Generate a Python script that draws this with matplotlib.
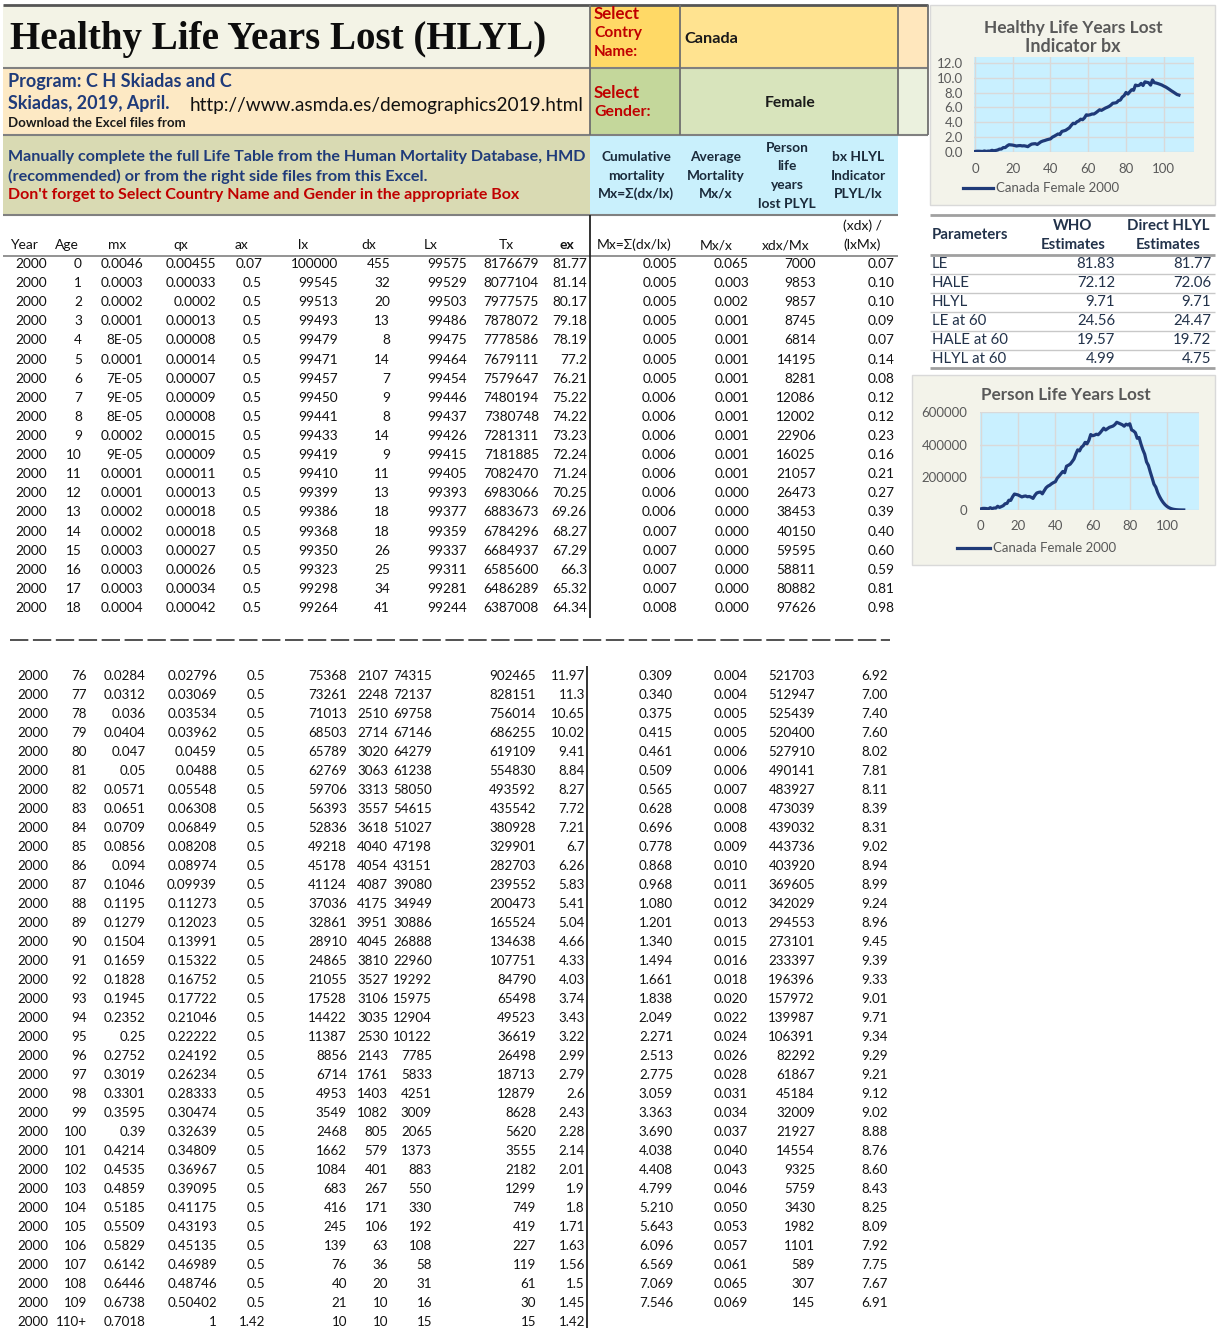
import matplotlib
matplotlib.use('Agg')
import matplotlib.pyplot as plt
from matplotlib import font_manager as fm
from matplotlib.patches import Rectangle
from matplotlib.ticker import FuncFormatter
import numpy as np

# ---------------- data ----------------
year = 2000
ages_top = list(range(0, 19))
mx_top = ["0.0046", "0.0003", "0.0002", "0.0001", "8E-05", "0.0001", "7E-05", "9E-05", "8E-05", "0.0002",
          "9E-05", "0.0001", "0.0001", "0.0002", "0.0002", "0.0003", "0.0003", "0.0003", "0.0004"]
qx_top = ["0.00455", "0.00033", "0.0002", "0.00013", "0.00008", "0.00014", "0.00007", "0.00009", "0.00008",
          "0.00015", "0.00009", "0.00011", "0.00013", "0.00018", "0.00018", "0.00027", "0.00026", "0.00034", "0.00042"]
ax_top = ["0.07"] + ["0.5"] * 18
lx_top = [100000, 99545, 99513, 99493, 99479, 99471, 99457, 99450, 99441, 99433, 99419, 99410, 99399, 99386,
          99368, 99350, 99323, 99298, 99264]
dx_top = [455, 32, 20, 13, 8, 14, 7, 9, 8, 14, 9, 11, 13, 18, 18, 26, 25, 34, 41]
Lx_top = [99575, 99529, 99503, 99486, 99475, 99464, 99454, 99446, 99437, 99426, 99415, 99405, 99393, 99377,
          99359, 99337, 99311, 99281, 99244]
Tx_top = [8176679, 8077104, 7977575, 7878072, 7778586, 7679111, 7579647, 7480194, 7380748, 7281311, 7181885,
          7082470, 6983066, 6883673, 6784296, 6684937, 6585600, 6486289, 6387008]
ex_top = ["81.77", "81.14", "80.17", "79.18", "78.19", "77.2", "76.21", "75.22", "74.22", "73.23", "72.24",
          "71.24", "70.25", "69.26", "68.27", "67.29", "66.3", "65.32", "64.34"]
Mx_top = [0.005, 0.005, 0.005, 0.005, 0.005, 0.005, 0.005, 0.006, 0.006, 0.006, 0.006, 0.006, 0.006, 0.006,
          0.007, 0.007, 0.007, 0.007, 0.008]
Mxx_top = [0.065, 0.003, 0.002, 0.001, 0.001, 0.001, 0.001, 0.001, 0.001, 0.001, 0.001, 0.001, 0.000, 0.000,
           0.000, 0.000, 0.000, 0.000, 0.000]
plyl_top = [7000, 9853, 9857, 8745, 6814, 14195, 8281, 12086, 12002, 22906, 16025, 21057, 26473, 38453, 40150,
            59595, 58811, 80882, 97626]
bx_top = [0.07, 0.10, 0.10, 0.09, 0.07, 0.14, 0.08, 0.12, 0.12, 0.23, 0.16, 0.21, 0.27, 0.39, 0.40, 0.60,
          0.59, 0.81, 0.98]

# ages 19..75
plyl_mid = [95000, 92000, 86000, 80000, 84000, 86000, 81000, 83000, 78000, 71000, 90000, 104000, 108000,
            110000, 99000, 118000, 136000, 146000, 152000, 161000, 168000, 173000, 195000, 208000, 222000,
            236000, 228000, 268000, 274000, 281000, 296000, 312000, 342000, 368000, 362000, 384000, 394000,
            414000, 405000, 426000, 462000, 455000, 458000, 464000, 461000, 472000, 486000, 501000, 490000,
            498000, 506000, 510000, 514000, 523000, 537000, 532000, 527000]
bx_mid = [0.96, 0.93, 0.87, 0.81, 0.85, 0.87, 0.82, 0.84, 0.79, 0.72, 0.91, 1.06, 1.10, 1.12, 1.01, 1.20,
          1.38, 1.48, 1.55, 1.64, 1.71, 1.77, 2.00, 2.13, 2.28, 2.43, 2.35, 2.77, 2.84, 2.92, 3.09, 3.26,
          3.59, 3.87, 3.82, 4.07, 4.19, 4.42, 4.35, 4.60, 5.01, 4.96, 5.02, 5.12, 5.12, 5.28, 5.48, 5.69,
          5.61, 5.76, 5.91, 6.02, 6.14, 6.32, 6.57, 6.60, 6.66]

ages_bot = [str(a) for a in range(76, 110)] + ["110+"]
mx_bot = ["0.0284", "0.0312", "0.036", "0.0404", "0.047", "0.05", "0.0571", "0.0651", "0.0709", "0.0856",
          "0.094", "0.1046", "0.1195", "0.1279", "0.1504", "0.1659", "0.1828", "0.1945", "0.2352", "0.25",
          "0.2752", "0.3019", "0.3301", "0.3595", "0.39", "0.4214", "0.4535", "0.4859", "0.5185", "0.5509",
          "0.5829", "0.6142", "0.6446", "0.6738", "0.7018"]
qx_bot = ["0.02796", "0.03069", "0.03534", "0.03962", "0.0459", "0.0488", "0.05548", "0.06308", "0.06849",
          "0.08208", "0.08974", "0.09939", "0.11273", "0.12023", "0.13991", "0.15322", "0.16752", "0.17722",
          "0.21046", "0.22222", "0.24192", "0.26234", "0.28333", "0.30474", "0.32639", "0.34809", "0.36967",
          "0.39095", "0.41175", "0.43193", "0.45135", "0.46989", "0.48746", "0.50402", "1"]
ax_bot = ["0.5"] * 34 + ["1.42"]
lx_bot = [75368, 73261, 71013, 68503, 65789, 62769, 59706, 56393, 52836, 49218, 45178, 41124, 37036, 32861,
          28910, 24865, 21055, 17528, 14422, 11387, 8856, 6714, 4953, 3549, 2468, 1662, 1084, 683, 416, 245,
          139, 76, 40, 21, 10]
dx_bot = [2107, 2248, 2510, 2714, 3020, 3063, 3313, 3557, 3618, 4040, 4054, 4087, 4175, 3951, 4045, 3810,
          3527, 3106, 3035, 2530, 2143, 1761, 1403, 1082, 805, 579, 401, 267, 171, 106, 63, 36, 20, 10, 10]
Lx_bot = [74315, 72137, 69758, 67146, 64279, 61238, 58050, 54615, 51027, 47198, 43151, 39080, 34949, 30886,
          26888, 22960, 19292, 15975, 12904, 10122, 7785, 5833, 4251, 3009, 2065, 1373, 883, 550, 330, 192,
          108, 58, 31, 16, 15]
Tx_bot = [902465, 828151, 756014, 686255, 619109, 554830, 493592, 435542, 380928, 329901, 282703, 239552,
          200473, 165524, 134638, 107751, 84790, 65498, 49523, 36619, 26498, 18713, 12879, 8628, 5620, 3555,
          2182, 1299, 749, 419, 227, 119, 61, 30, 15]
ex_bot = ["11.97", "11.3", "10.65", "10.02", "9.41", "8.84", "8.27", "7.72", "7.21", "6.7", "6.26", "5.83",
          "5.41", "5.04", "4.66", "4.33", "4.03", "3.74", "3.43", "3.22", "2.99", "2.79", "2.6", "2.43", "2.28",
          "2.14", "2.01", "1.9", "1.8", "1.71", "1.63", "1.56", "1.5", "1.45", "1.42"]
Mx_bot = [0.309, 0.340, 0.375, 0.415, 0.461, 0.509, 0.565, 0.628, 0.696, 0.778, 0.868, 0.968, 1.080, 1.201,
          1.340, 1.494, 1.661, 1.838, 2.049, 2.271, 2.513, 2.775, 3.059, 3.363, 3.690, 4.038, 4.408, 4.799,
          5.210, 5.643, 6.096, 6.569, 7.069, 7.546]
Mxx_bot = [0.004, 0.004, 0.005, 0.005, 0.006, 0.006, 0.007, 0.008, 0.008, 0.009, 0.010, 0.011, 0.012, 0.013,
           0.015, 0.016, 0.018, 0.020, 0.022, 0.024, 0.026, 0.028, 0.031, 0.034, 0.037, 0.040, 0.043, 0.046,
           0.050, 0.053, 0.057, 0.061, 0.065, 0.069]
plyl_bot = [521703, 512947, 525439, 520400, 527910, 490141, 483927, 473039, 439032, 443736, 403920, 369605,
            342029, 294553, 273101, 233397, 196396, 157972, 139987, 106391, 82292, 61867, 45184, 32009, 21927,
            14554, 9325, 5759, 3430, 1982, 1101, 589, 307, 145]
bx_bot = [6.92, 7.00, 7.40, 7.60, 8.02, 7.81, 8.11, 8.39, 8.31, 9.02, 8.94, 8.99, 9.24, 8.96, 9.45, 9.39, 9.33,
          9.01, 9.71, 9.34, 9.29, 9.21, 9.12, 9.02, 8.88, 8.76, 8.60, 8.43, 8.25, 8.09, 7.92, 7.75, 7.67, 6.91]

param_names = ["LE", "HALE", "HLYL", "LE at 60", "HALE at 60", "HLYL at 60"]
who_est = [81.83, 72.12, 9.71, 24.56, 19.57, 4.99]
direct_est = [81.77, 72.06, 9.71, 24.47, 19.72, 4.75]

country = "Canada"
gender = "Female"
series_label = "Canada Female 2000"

# ---------------- fonts ----------------
names = {f.name for f in fm.fontManager.ttflist}
BASE = 'Lato' if 'Lato' in names else 'DejaVu Sans'
SERIF = 'Liberation Serif' if 'Liberation Serif' in names else 'DejaVu Serif'
plt.rcParams['font.family'] = [BASE, 'DejaVu Sans']

W, H = 1225, 1328
fig = plt.figure(figsize=(W / 100, H / 100), dpi=100)
fig.patch.set_facecolor('white')
ax = fig.add_axes([0, 0, 1, 1])
ax.set_xlim(0, W)
ax.set_ylim(H, 0)
ax.axis('off')
renderer = fig.canvas.get_renderer()


def rect(x0, y0, x1, y1, fc, ec='none', lw=0, z=0):
    ax.add_patch(Rectangle((x0, y0), x1 - x0, y1 - y0, fc=fc, ec=ec, lw=lw, zorder=z))


def hline(y, x0, x1, c='#808080', lw=1.2):
    ax.plot([x0, x1], [y, y], color=c, lw=lw, solid_capstyle='butt', zorder=3)


def vline(x, y0, y1, c='#808080', lw=1.2):
    ax.plot([x, x], [y0, y1], color=c, lw=lw, solid_capstyle='butt', zorder=3)


def T(x, y, s, ha='left', size=10, weight='normal', color='#111111', family=None, va='center', width=None, **kw):
    fam = [family or BASE, 'DejaVu Sans']
    t = ax.text(x, y, s, ha=ha, va=va, fontsize=size, fontweight=weight, color=color, family=fam, zorder=5, **kw)
    if width is not None:
        bb = t.get_window_extent(renderer)
        t.set_fontsize(size * width / bb.width)
    return t


# ---------------- header cells ----------------
rect(3, 5, 590, 68, '#f3f3e6')
rect(3, 68, 590, 135, '#fde9c4')
rect(3, 135, 590, 215, '#d9dab3')
rect(590, 5, 680, 68, '#ffd966')
rect(680, 5, 898, 68, '#ffe390')
rect(898, 5, 928, 68, '#ffe7bd')
rect(590, 68, 680, 135, '#c4d79b')
rect(680, 68, 898, 135, '#d8e4bc')
rect(898, 68, 928, 135, '#ebf1de')
rect(590, 135, 898, 214, '#c9f0fc')

hline(5, 3, 928, '#555555', 2.0)
hline(68, 3, 928, '#808080', 1.5)
hline(135, 3, 928, '#808080', 1.5)
hline(215, 3, 898, '#808080', 1.5)
for xv in (590, 680, 898):
    vline(xv, 5, 135, '#6f6f6f', 1.3)
vline(928, 5, 135, '#6f6f6f', 1.3)

T(10, 40, "Healthy Life Years Lost (HLYL)", size=25, weight='bold', family=SERIF, color='#0d0d0d', width=537)
T(8, 82, "Program: C H Skiadas and C", size=10, weight='bold', color='#1f3b7a', width=223)
T(8, 103, "Skiadas, 2019, April.", size=10, weight='bold', color='#1f3b7a', width=162)
T(190, 105, "http://www.asmda.es/demographics2019.html", size=11, color='#111111', width=395)
T(8, 123, "Download the Excel files from", size=9, weight='bold', color='#1a1a1a', width=178)
T(8, 157, "Manually complete the full Life Table from the Human Mortality Database, HMD", size=10,
  weight='bold', color='#1f3b7a', width=579)
T(8, 176, "(recommended) or from the right side files from this Excel.", size=10, weight='bold',
  color='#1f3b7a', width=420)
T(8, 195, "Don't forget to Select Country Name and Gender in the appropriate Box", size=10, weight='bold',
  color='#c00000', width=516)

T(594, 14, "Select", size=10.5, weight='bold', color='#c00000', width=46)
T(594, 33, "Contry", size=10.5, weight='bold', color='#c00000', width=48)
T(594, 52, "Name:", size=10.5, weight='bold', color='#c00000', width=44)
T(684, 39, country, size=10.5, weight='bold', color='#1a1a1a', width=54)
T(594, 93, "Select", size=10.5, weight='bold', color='#c00000', width=46)
T(594, 112, "Gender:", size=10.5, weight='bold', color='#c00000', width=57)
T(790, 103, gender, size=10.5, weight='bold', color='#1a1a1a', ha='center', width=51)

blue_hdr = [(636, ["Cumulative", "mortality", "Mx=Σ(dx/lx)"], 157),
            (716, ["Average", "Mortality", "Mx/x"], 157),
            (787, ["Person", "life", "years", "lost PLYL"], 148),
            (858, ["bx HLYL", "Indicator", "PLYL/lx"], 157)]
for xc, lines, y0 in blue_hdr:
    for k, s in enumerate(lines):
        T(xc, y0 + 18.5 * k, s, ha='center', size=9.9, weight='bold', color='#1a2a3a')

# ---------------- column headers ----------------
hdr = [("Year", 24), ("Age", 67), ("mx", 117), ("qx", 181), ("ax", 241), ("lx", 303), ("dx", 369),
       ("Lx", 431), ("Tx", 506), ("ex", 567)]
for s, xc in hdr:
    T(xc, 245, s, ha='center', size=10, weight='bold' if s == 'ex' else 'normal')
T(634, 245, "Mx=Σ(dx/lx)", ha='center', size=10)
T(716, 245, "Mx/x", ha='center', size=10)
T(786, 245, "xdx/Mx", ha='center', size=10)
T(862, 226, "(xdx) /", ha='center', size=10)
T(862, 245, "(lxMx)", ha='center', size=10)
hline(255.5, 3, 898, '#808080', 1.2)
vline(590, 215, 618, '#222222', 1.3)

# ---------------- top table rows ----------------
rt = [47, 82, 143, 216, 262, 338, 390, 467, 539, 587, 677, 749, 816, 895]
for i, a in enumerate(ages_top):
    y = 264 + i * 19.11
    vals = [str(year), str(a), mx_top[i], qx_top[i], ax_top[i], str(lx_top[i]), str(dx_top[i]),
            str(Lx_top[i]), str(Tx_top[i]), ex_top[i], f"{Mx_top[i]:.3f}", f"{Mxx_top[i]:.3f}",
            str(plyl_top[i]), f"{bx_top[i]:.2f}"]
    for xr, s in zip(rt, vals):
        T(xr, y, s, ha='right', size=9.8)

# dashed separator
ax.plot([10, 890], [640, 640], color='#222222', lw=1.1, dashes=(12, 3), zorder=3)

# ---------------- bottom table rows ----------------
rb = [48, 87, 146, 217, 265, 347, 388, 432, 536, 585, 673, 748, 815, 888]
vline(587, 666, 1328, '#222222', 1.3)
for i, a in enumerate(ages_bot):
    y = 676 + i * 19.0
    vals = [str(year), a, mx_bot[i], qx_bot[i], ax_bot[i], str(lx_bot[i]), str(dx_bot[i]),
            str(Lx_bot[i]), str(Tx_bot[i]), ex_bot[i]]
    if i < len(Mx_bot):
        vals += [f"{Mx_bot[i]:.3f}", f"{Mxx_bot[i]:.3f}", str(plyl_bot[i]), f"{bx_bot[i]:.2f}"]
    for xr, s in zip(rb, vals):
        T(xr, y, s, ha='right', size=9.6)

# ---------------- parameter table ----------------
pc = '#22324a'
PS = 10.8
T(932, 235, "Parameters", size=PS, weight='bold', color=pc)
T(1073, 226, "WHO", size=PS, weight='bold', color=pc, ha='center')
T(1073, 245, "Estimates", size=PS, weight='bold', color=pc, ha='center')
T(1168, 226, "Direct HLYL", size=PS, weight='bold', color=pc, ha='center')
T(1168, 245, "Estimates", size=PS, weight='bold', color=pc, ha='center')
hline(215, 930, 1215, '#a0a0a0', 2.0)
hline(255, 930, 1215, '#a0a0a0', 2.0)
for k, nm in enumerate(param_names):
    y = 264 + k * 19.0
    T(932, y, nm, size=PS, color=pc)
    T(1115, y, f"{who_est[k]:.2f}", size=PS, color=pc, ha='right')
    T(1211, y, f"{direct_est[k]:.2f}", size=PS, color=pc, ha='right')
    if k < 5:
        hline(y + 9.5, 930, 1215, '#c8c8c8', 1.0)
hline(368, 930, 1215, '#a0a0a0', 2.0)

# ---------------- charts ----------------
navy = '#1f3a78'
grey = '#595959'
rect(930, 5, 1215, 205, '#f3f3ea', ec='#d9d9d9', lw=1)
rect(912, 375, 1215, 565, '#f3f3ea', ec='#d9d9d9', lw=1)
T(1073, 28, "Healthy Life Years Lost", ha='center', size=12, weight='bold', color=grey, width=177)
T(1073, 47, "Indicator bx", ha='center', size=12, weight='bold', color=grey, width=95)
T(1066, 395, "Person Life Years Lost", ha='center', size=12, weight='bold', color=grey, width=169)


def sub(x0, y0, x1, y1):
    a = fig.add_axes([x0 / W, 1 - y1 / H, (x1 - x0) / W, (y1 - y0) / H])
    a.set_facecolor('#c9f0ff')
    for sp in a.spines.values():
        sp.set_visible(False)
    a.grid(True, color='#d9d9d9', lw=1.0)
    a.set_axisbelow(True)
    a.tick_params(length=0, labelsize=9.5, colors=grey)
    return a


ages_all = list(range(0, 110))
bx_all = bx_top + bx_mid + bx_bot
plyl_all = plyl_top + plyl_mid + plyl_bot

a1 = sub(974, 57, 1194, 152)
a1.plot(ages_all[:109], bx_all[:109], color=navy, lw=2.3)
a1.set_xlim(-0.5, 116)
a1.set_ylim(0, 12.8)
a1.set_xticks(range(0, 101, 20))
a1.set_yticks(np.arange(0, 12.1, 2))
a1.yaxis.set_major_formatter(FuncFormatter(lambda v, p: f"{v:.1f}"))
a1.tick_params(axis='y', pad=8)
a1.tick_params(axis='x', pad=8)

a2 = sub(980, 412, 1199, 510)
a2.plot(ages_all, plyl_all, color=navy, lw=2.3)
a2.set_xlim(-0.5, 117.2)
a2.set_ylim(0, 600000)
a2.set_xticks(range(0, 101, 20))
a2.set_yticks([0, 200000, 400000, 600000])
a2.yaxis.set_major_formatter(FuncFormatter(lambda v, p: f"{int(v)}"))
a2.tick_params(axis='y', pad=9)
a2.tick_params(axis='x', pad=7)

ax.plot([963, 993], [188, 188], color=navy, lw=2.3, zorder=6)
T(996, 188, series_label, size=9.3, color=grey, width=122)
ax.plot([957, 990], [548, 548], color=navy, lw=2.3, zorder=6)
T(993, 548, series_label, size=9.3, color=grey, width=122)

fig.savefig('out.png', dpi=100, facecolor='white')
